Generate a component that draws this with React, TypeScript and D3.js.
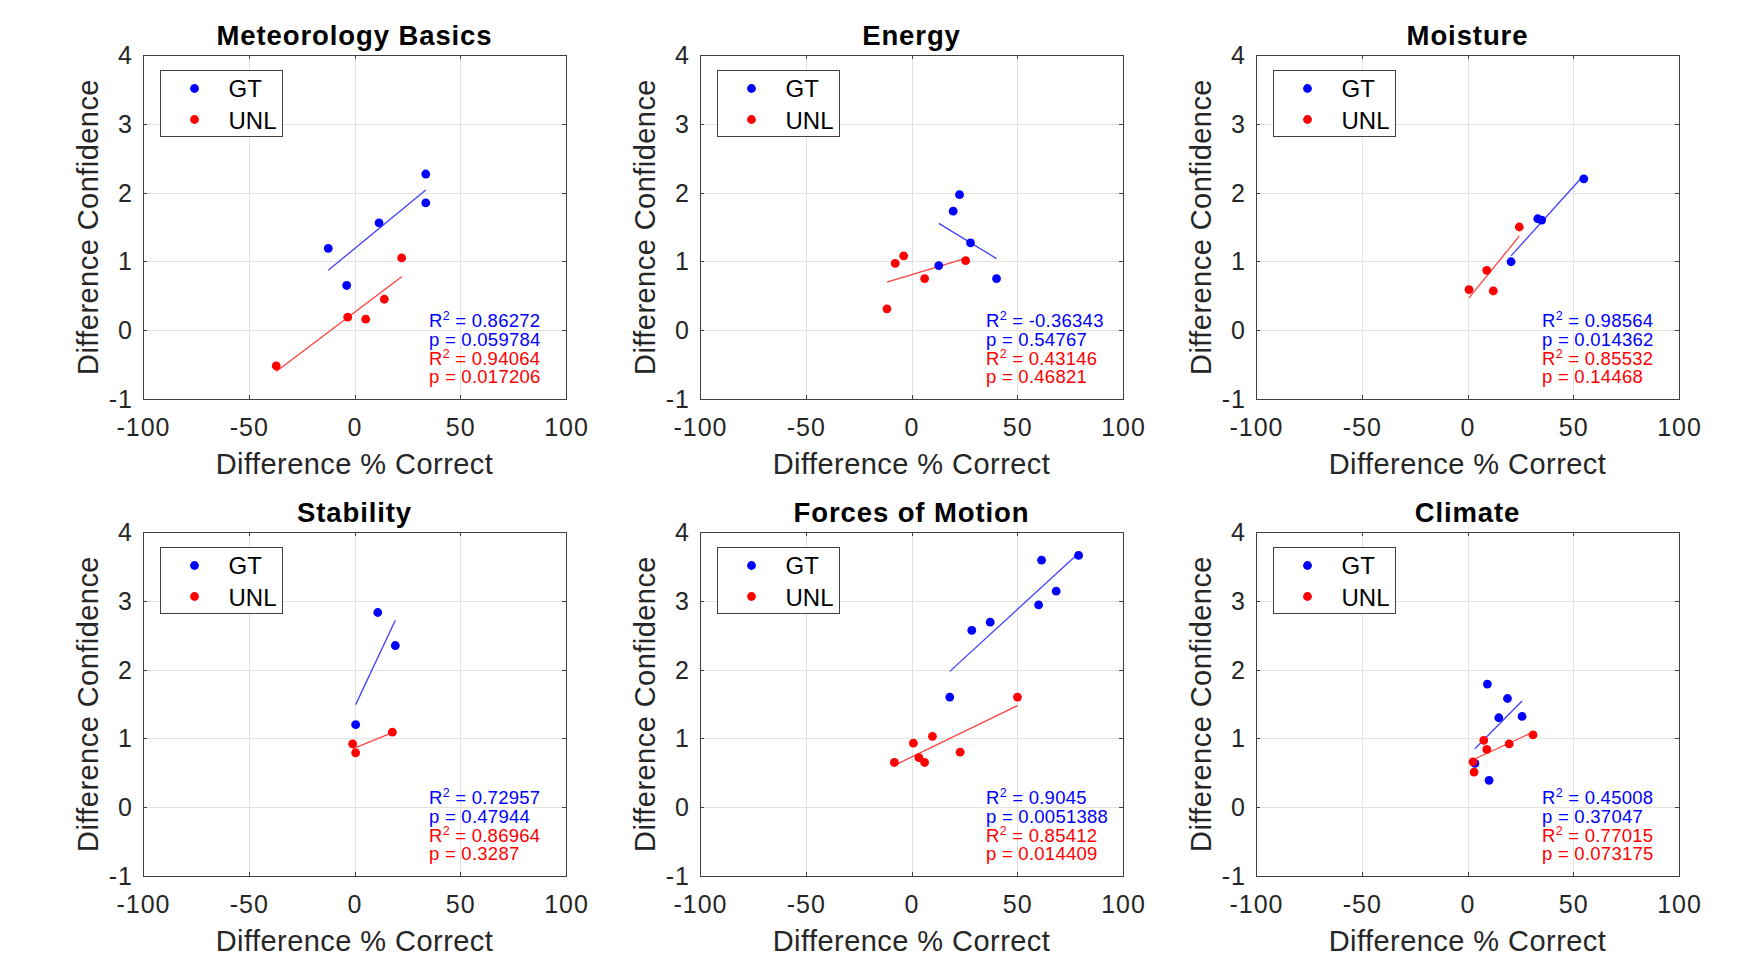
import { useEffect, useRef } from 'react'
import * as d3 from 'd3'

const W = 1744
const H = 964

const xTicks = [-100, -50, 0, 50, 100]
const yTicks = [-1, 0, 1, 2, 3, 4]
const seriesNames = ['GT', 'UNL']
const seriesColors = ['#0000ff', '#ff0000']
const lineColors = ['#4040ff', '#ff4040']

const titles = ['Meteorology Basics', 'Energy', 'Moisture', 'Stability', 'Forces of Motion', 'Climate']

// [difference % correct, difference confidence]
const basicsGT = [[-12.4, 1.19], [-3.7, 0.65], [11.6, 1.56], [33.7, 2.27], [33.7, 1.85]]
const basicsUNL = [[-37.0, -0.52], [-3.2, 0.19], [5.3, 0.16], [14.1, 0.45], [22.3, 1.05]]
const energyGT = [[12.9, 0.94], [19.7, 1.73], [22.7, 1.97], [27.9, 1.27], [40.2, 0.75]]
const energyUNL = [[-11.6, 0.31], [-7.7, 0.97], [-3.7, 1.08], [6.2, 0.75], [25.6, 1.01]]
const moistureGT = [[20.6, 0.995], [33.2, 1.62], [35.1, 1.6], [55.0, 2.2]]
const moistureUNL = [[0.7, 0.59], [9.1, 0.87], [12.2, 0.57], [24.5, 1.5]]
const stabilityGT = [[0.55, 1.2], [11.0, 2.83], [19.3, 2.35]]
const stabilityUNL = [[-0.9, 0.92], [0.55, 0.79], [17.9, 1.09]]
const forcesGT = [[18.1, 1.6], [28.5, 2.57], [37.2, 2.69], [60.1, 2.94], [61.5, 3.59], [68.4, 3.14], [79.0, 3.66]]
const forcesUNL = [[-8.1, 0.65], [0.9, 0.93], [3.5, 0.72], [6.2, 0.65], [9.9, 1.03], [23.0, 0.8], [50.1, 1.6]]
const climateGT = [[3.5, 0.636], [9.4, 1.79], [10.2, 0.39], [14.8, 1.3], [18.9, 1.58], [25.8, 1.32]]
const climateUNL = [[2.6, 0.66], [3.1, 0.51], [7.7, 0.97], [9.1, 0.84], [19.7, 0.92], [31.0, 1.05]]

const r2GT = ['0.86272', '-0.36343', '0.98564', '0.72957', '0.9045', '0.45008']
const pGT = ['0.059784', '0.54767', '0.014362', '0.47944', '0.0051388', '0.37047']
const r2UNL = ['0.94064', '0.43146', '0.85532', '0.86964', '0.85412', '0.77015']
const pUNL = ['0.017206', '0.46821', '0.14468', '0.3287', '0.014409', '0.073175']

const panelData = [
    [basicsGT, basicsUNL],
    [energyGT, energyUNL],
    [moistureGT, moistureUNL],
    [stabilityGT, stabilityUNL],
    [forcesGT, forcesUNL],
    [climateGT, climateUNL],
]

const panelLefts = [143, 700, 1256]
const panelTops = [55, 532]
const pw = 423
const ph = 344

const FONT = "'Liberation Sans', Arial, Helvetica, sans-serif"

// least squares line over the x range of the points
function fitLine(pts) {
    const mx = d3.mean(pts, d => d[0])
    const my = d3.mean(pts, d => d[1])
    let sxx = 0
    let sxy = 0
    for (const [x, y] of pts) {
        sxx += (x - mx) * (x - mx)
        sxy += (x - mx) * (y - my)
    }
    const slope = sxy / sxx
    const [x0, x1] = d3.extent(pts, d => d[0])
    return [[x0, my + slope * (x0 - mx)], [x1, my + slope * (x1 - mx)]]
}

function App() {
    const ref = useRef(null)

    useEffect(() => {
        const svg = d3.select(ref.current)
        svg.selectAll('*').remove()

        panelData.forEach((series, i) => {
            const left = panelLefts[i % 3]
            const top = panelTops[Math.floor(i / 3)]

            const xScale = d3.scaleLinear().domain([-100, 100]).range([0, pw])
            const yScale = d3.scaleLinear().domain([-1, 4]).range([ph, 0])

            const g = svg.append('g').attr('transform', `translate(${left}, ${top})`)

            g.append('rect')
                .attr('width', pw)
                .attr('height', ph)
                .attr('fill', 'white')

            // grid
            g.selectAll('.gx')
                .data(xTicks.slice(1, -1))
                .enter()
                .append('line')
                .attr('x1', d => Math.round(xScale(d)) + 0.5)
                .attr('x2', d => Math.round(xScale(d)) + 0.5)
                .attr('y1', 0)
                .attr('y2', ph)
                .style('stroke', '#e2e2e2')
            g.selectAll('.gy')
                .data(yTicks.slice(1, -1))
                .enter()
                .append('line')
                .attr('y1', d => Math.round(yScale(d)) + 0.5)
                .attr('y2', d => Math.round(yScale(d)) + 0.5)
                .attr('x1', 0)
                .attr('x2', pw)
                .style('stroke', '#e2e2e2')

            // inward ticks on all four sides
            const tk = 4
            for (const d of xTicks) {
                const x = Math.round(xScale(d)) + 0.5
                g.append('line').attr('x1', x).attr('x2', x).attr('y1', ph).attr('y2', ph - tk).style('stroke', '#404040')
                g.append('line').attr('x1', x).attr('x2', x).attr('y1', 0).attr('y2', tk).style('stroke', '#404040')
            }
            for (const d of yTicks) {
                const y = Math.round(yScale(d)) + 0.5
                g.append('line').attr('y1', y).attr('y2', y).attr('x1', 0).attr('x2', tk).style('stroke', '#404040')
                g.append('line').attr('y1', y).attr('y2', y).attr('x1', pw).attr('x2', pw - tk).style('stroke', '#404040')
            }

            g.append('rect')
                .attr('x', 0.5)
                .attr('y', 0.5)
                .attr('width', pw)
                .attr('height', ph)
                .style('fill', 'none')
                .style('stroke', '#404040')

            // tick labels
            g.selectAll('.xt')
                .data(xTicks)
                .enter()
                .append('text')
                .attr('x', d => xScale(d) + 0.5)
                .attr('y', ph + 37)
                .style('text-anchor', 'middle')
                .style('font-family', FONT)
                .style('font-size', '25px')
                .style('letter-spacing', '1px')
                .style('fill', '#262626')
                .text(d => d)
            g.selectAll('.yt')
                .data(yTicks)
                .enter()
                .append('text')
                .attr('x', -10)
                .attr('y', d => yScale(d) + 9)
                .style('text-anchor', 'end')
                .style('font-family', FONT)
                .style('font-size', '25px')
                .style('letter-spacing', '1px')
                .style('fill', '#262626')
                .text(d => d)

            // axis labels and title
            g.append('text')
                .attr('x', pw / 2)
                .attr('y', ph + 75)
                .style('text-anchor', 'middle')
                .style('font-family', FONT)
                .style('font-size', '29px')
                .style('letter-spacing', '0.45px')
                .style('fill', '#262626')
                .text('Difference % Correct')
            g.append('text')
                .attr('transform', `translate(-45, ${ph / 2}) rotate(-90)`)
                .style('text-anchor', 'middle')
                .style('font-family', FONT)
                .style('font-size', '29px')
                .style('letter-spacing', '0.45px')
                .style('fill', '#262626')
                .text('Difference Confidence')
            g.append('text')
                .attr('x', pw / 2)
                .attr('y', -10)
                .style('text-anchor', 'middle')
                .style('font-family', FONT)
                .style('font-size', '27.5px')
                .style('letter-spacing', '0.9px')
                .style('font-weight', 'bold')
                .style('fill', '#000')
                .text(titles[i])

            const path = d3.line().x(d => xScale(d[0])).y(d => yScale(d[1]))

            series.forEach((pts, s) => {
                g.append('path')
                    .datum(fitLine(pts))
                    .attr('d', path)
                    .style('fill', 'none')
                    .style('stroke', lineColors[s])
                    .style('stroke-width', 1.3)
            })
            series.forEach((pts, s) => {
                g.selectAll(`.pt${s}`)
                    .data(pts)
                    .enter()
                    .append('circle')
                    .attr('cx', d => xScale(d[0]))
                    .attr('cy', d => yScale(d[1]))
                    .attr('r', 4.4)
                    .style('fill', seriesColors[s])
            })

            // legend
            const lg = g.append('g').attr('transform', 'translate(17, 15)')
            lg.append('rect')
                .attr('x', 0.5)
                .attr('y', 0.5)
                .attr('width', 122)
                .attr('height', 66)
                .style('fill', 'white')
                .style('stroke', '#404040')
            seriesNames.forEach((name, s) => {
                lg.append('circle')
                    .attr('cx', 34.5)
                    .attr('cy', 18.5 + s * 31)
                    .attr('r', 4.4)
                    .style('fill', seriesColors[s])
                lg.append('text')
                    .attr('x', 68.5)
                    .attr('y', 27 + s * 31.5)
                    .style('font-family', FONT)
                    .style('font-size', '24px')
                    .style('fill', '#000')
                    .text(name)
            })

            // stats annotation
            const notes = [
                ['R', r2GT[i], seriesColors[0]],
                ['p', pGT[i], seriesColors[0]],
                ['R', r2UNL[i], seriesColors[1]],
                ['p', pUNL[i], seriesColors[1]],
            ]
            notes.forEach(([kind, val, color], k) => {
                const t = g.append('text')
                    .attr('x', 286)
                    .attr('y', 272 + k * 18.8)
                    .style('font-family', FONT)
                    .style('font-size', '18.5px')
                    .style('letter-spacing', '0.25px')
                    .style('fill', color)
                if (kind === 'R') {
                    t.append('tspan').text('R')
                    t.append('tspan').attr('dy', -7).style('font-size', '12.5px').text('2')
                    t.append('tspan').attr('dy', 7).text(` = ${val}`)
                } else {
                    t.text(`p = ${val}`)
                }
            })
        })
    })

    return (
        <svg
            ref={ref}
            width={W}
            height={H}
            style={{ position: 'absolute', left: 0, top: 0, background: 'white' }}
        />
    )
}

export default App
